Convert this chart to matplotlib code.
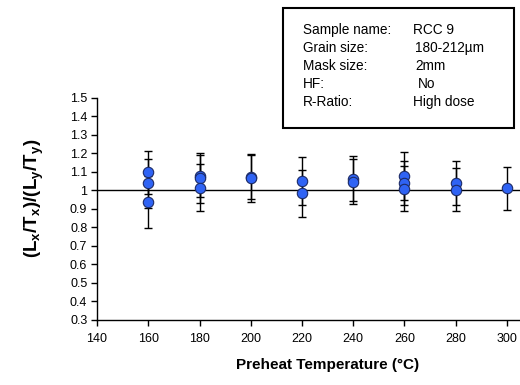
import matplotlib
matplotlib.use("Agg")
import matplotlib.pyplot as plt
from matplotlib.patches import Rectangle

plt.rcParams['font.family'] = ['Liberation Sans', 'DejaVu Sans']
plt.rcParams['mathtext.fontset'] = 'custom'
plt.rcParams['mathtext.rm'] = 'Liberation Sans'
plt.rcParams['mathtext.bf'] = 'Liberation Sans:bold'
plt.rcParams['mathtext.it'] = 'Liberation Sans:italic'

# Dose recovery ratio per aliquot at each preheat temperature
preheat = [160, 160, 160, 180, 180, 180, 200, 200, 220, 220,
           240, 240, 260, 260, 260, 280, 280, 300]
ratio = [1.097, 1.038, 0.935, 1.076, 1.067, 1.015, 1.072, 1.068, 1.05, 0.984,
         1.063, 1.047, 1.08, 1.04, 1.008, 1.04, 1.004, 1.01]
ratio_err = [0.118, 0.133, 0.14, 0.113, 0.135, 0.129, 0.119, 0.13, 0.13, 0.128,
             0.122, 0.122, 0.13, 0.12, 0.122, 0.117, 0.118, 0.115]

x_ticks = [140, 160, 180, 200, 220, 240, 260, 280, 300]
y_ticks = [0.3, 0.4, 0.5, 0.6, 0.7, 0.8, 0.9, 1.0, 1.1, 1.2, 1.3, 1.4, 1.5]
y_tick_labels = ['0.3', '0.4', '0.5', '0.6', '0.7', '0.8', '0.9', '1',
                 '1.1', '1.2', '1.3', '1.4', '1.5']

info_keys = ['Sample name:', 'Grain size:', 'Mask size:', 'HF:', 'R-Ratio:']
info_vals = ['RCC 9', '180-212µm', '2mm', 'No', 'High dose']

W, H = 520, 385
fig = plt.figure(figsize=(W / 100, H / 100), dpi=100)

# axes extend past the right edge of the figure
ax = fig.add_axes([97 / W, 1 - 319.5 / H, 461.25 / W, 221.5 / H])
ax.set_xlim(140, 320)
ax.set_ylim(0.3, 1.5)

ax.axhline(1.0, color='black', lw=1.0, zorder=1)

ax.errorbar(preheat, ratio, yerr=ratio_err, fmt='none', ecolor='black',
            elinewidth=1.0, capsize=3, capthick=1.0, zorder=2)
ax.plot(preheat, ratio, linestyle='none', marker='o', markersize=7.5,
        markerfacecolor='#2f63f4', markeredgecolor='#1c2b66',
        markeredgewidth=0.8, zorder=3)

for s in ['top', 'right']:
    ax.spines[s].set_visible(False)
for s in ['left', 'bottom']:
    ax.spines[s].set_linewidth(1.0)
    ax.spines[s].set_color('black')

ax.set_xticks(x_ticks)
ax.set_xticklabels([str(t) for t in x_ticks])
ax.set_yticks(y_ticks)
ax.set_yticklabels(y_tick_labels)
ax.tick_params(axis='both', direction='out', length=4, width=1.0,
               labelsize=9, colors='black', pad=3)
ax.tick_params(axis='x', pad=6)

ax.set_xlabel('Preheat Temperature (°C)', fontsize=11, fontweight='bold',
              labelpad=9)
fig.text(34 / W, 1 - 198 / H, r'$\mathbf{(L_x/T_x)/(L_y/T_y)}$',
         rotation=90, ha='center', va='center', fontsize=13.5)

# sample information box
box = Rectangle((282.7 / W, 1 - 128 / H), (514 - 282.7) / W, (128 - 8) / H,
                transform=fig.transFigure, facecolor='white',
                edgecolor='black', lw=1.5)
fig.patches.append(box)
val_x = [412.7, 415, 415.7, 417.7, 412.7]
for i, (k, v) in enumerate(zip(info_keys, info_vals)):
    y = 1 - (30 + 18 * i) / H
    fig.text(303.3 / W, y, k, ha='left', va='center', fontsize=9.8)
    fig.text(val_x[i] / W, y, v, ha='left', va='center', fontsize=9.8)

fig.savefig('out.png', dpi=100)
